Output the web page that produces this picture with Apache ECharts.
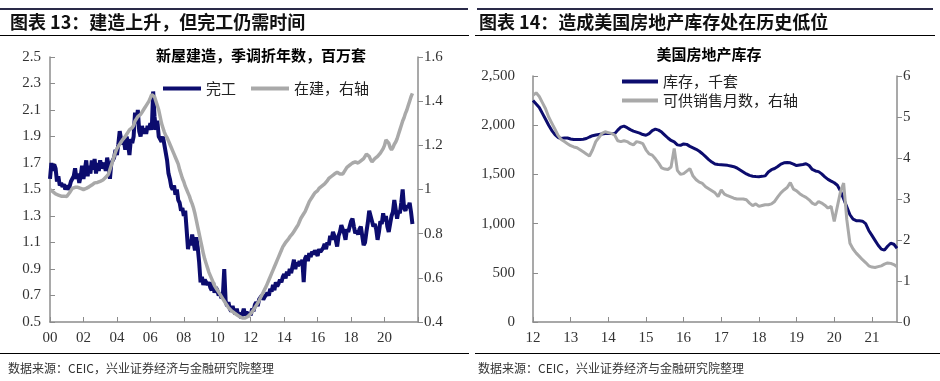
<!DOCTYPE html>
<html>
<head>
<meta charset="utf-8">
<script src="https://cdn.jsdelivr.net/npm/echarts@6/dist/echarts.min.js"></script>
<style>
  html, body { margin: 0; padding: 0; background: #fff; }
  #chart { width: 940px; height: 381px; }
</style>
</head>
<body>
<div id="chart"></div>
<script>
// ---------- Left chart: monthly from Jan 2000 ----------
const leftStartYear = 2000;
const leftAxisMinYear = 2000;
const leftAxisMaxYear = 2022;
const leftXTickStep = 2;
// 完工 (left axis, millions, SAAR)
const completions = [
  1.58, 1.70, 1.64, 1.69, 1.66, 1.56, 1.60, 1.53, 1.55, 1.52, 1.54, 1.50,
  1.53, 1.50, 1.52, 1.56, 1.55, 1.60, 1.66, 1.58, 1.62, 1.55, 1.60, 1.68,
  1.58, 1.65, 1.72, 1.60, 1.68, 1.62, 1.72, 1.65, 1.73, 1.62, 1.70, 1.64,
  1.72, 1.66, 1.65, 1.70, 1.64, 1.74, 1.68, 1.58, 1.70, 1.72, 1.74, 1.80,
  1.76, 1.84, 1.94, 1.88, 1.84, 1.87, 1.80, 1.90, 1.84, 1.76, 1.88, 1.85,
  1.90, 2.08, 2.00, 2.10, 1.94, 1.90, 1.98, 1.92, 1.96, 1.92, 1.98, 1.95,
  2.00, 1.95, 2.24, 2.05, 1.95, 2.02, 1.90, 1.88, 1.86, 1.90, 1.84, 1.78,
  1.72, 1.62, 1.58, 1.52, 1.50, 1.53, 1.46, 1.50, 1.42, 1.40, 1.34, 1.36,
  1.30, 1.34, 1.20, 1.05, 1.12, 1.08, 1.16, 1.10, 1.04, 1.14, 1.06, 0.95,
  0.80, 0.84, 0.78, 0.82, 0.80, 0.78, 0.80, 0.76, 0.74, 0.80, 0.72, 0.76,
  0.74, 0.70, 0.72, 0.68, 0.70, 0.90, 0.66, 0.62, 0.65, 0.60, 0.58, 0.62,
  0.58, 0.56, 0.60, 0.55, 0.57, 0.53, 0.56, 0.60, 0.55, 0.58, 0.54, 0.57,
  0.55, 0.60, 0.58, 0.63, 0.65, 0.62, 0.67, 0.66, 0.70, 0.67, 0.69, 0.68,
  0.72, 0.70, 0.75, 0.73, 0.78, 0.74, 0.80, 0.77, 0.79, 0.82, 0.80, 0.84,
  0.86, 0.83, 0.88, 0.85, 0.90, 0.87, 0.92, 0.97, 0.90, 0.95, 0.92, 0.96,
  0.93, 0.97, 0.80, 0.98, 1.00, 0.96, 1.02, 0.99, 1.03, 1.01, 1.04, 1.02,
  1.00, 1.05, 1.03, 1.02, 1.06, 1.09, 1.05, 1.10, 1.08, 1.15, 1.12, 1.18,
  1.17, 1.12, 1.07, 1.15, 1.18, 1.23, 1.20, 1.17, 1.12, 1.20, 1.18, 1.22,
  1.26, 1.28, 1.22, 1.17, 1.19, 1.16, 1.20, 1.22, 1.15, 1.08, 1.10, 1.18,
  1.25, 1.34, 1.30, 1.26, 1.22, 1.24, 1.20, 1.12, 1.18, 1.26, 1.24, 1.32,
  1.26, 1.30, 1.22, 1.18, 1.24, 1.30, 1.33, 1.42, 1.35, 1.28, 1.34, 1.32,
  1.40, 1.50, 1.36, 1.34, 1.38, 1.36, 1.40, 1.33, 1.24
];
// 在建 (right axis, millions)
const underConstruction = [
  1.000, 0.995, 0.990, 0.985, 0.980, 0.980, 0.975, 0.975, 0.970, 0.970, 0.970, 0.968,
  0.968, 0.975, 0.985, 0.995, 1.005, 1.010, 1.010, 1.010, 1.010, 1.005, 1.005, 1.000,
  1.000, 1.000, 1.005, 1.010, 1.012, 1.015, 1.020, 1.025, 1.030, 1.030, 1.032, 1.035,
  1.037, 1.040, 1.043, 1.048, 1.055, 1.060, 1.070, 1.090, 1.110, 1.130, 1.150, 1.170,
  1.185, 1.195, 1.205, 1.215, 1.225, 1.230, 1.240, 1.250, 1.260, 1.270, 1.275, 1.280,
  1.290, 1.310, 1.320, 1.330, 1.335, 1.340, 1.350, 1.360, 1.370, 1.380, 1.390, 1.400,
  1.415, 1.430, 1.430, 1.420, 1.400, 1.380, 1.360, 1.330, 1.300, 1.280, 1.260, 1.245,
  1.235, 1.220, 1.205, 1.190, 1.175, 1.160, 1.145, 1.130, 1.115, 1.090, 1.070, 1.050,
  1.035, 1.015, 1.000, 0.985, 0.970, 0.950, 0.935, 0.915, 0.890, 0.860, 0.830, 0.800,
  0.770, 0.740, 0.710, 0.685, 0.665, 0.645, 0.625, 0.610, 0.595, 0.580, 0.565, 0.555,
  0.545, 0.535, 0.525, 0.515, 0.505, 0.495, 0.485, 0.475, 0.465, 0.458, 0.452, 0.447,
  0.442, 0.438, 0.433, 0.428, 0.424, 0.420, 0.418, 0.417, 0.418, 0.420, 0.425, 0.430,
  0.438, 0.446, 0.455, 0.465, 0.475, 0.485, 0.497, 0.510, 0.522, 0.535, 0.548, 0.560,
  0.575, 0.590, 0.605, 0.620, 0.635, 0.650, 0.665, 0.680, 0.695, 0.710, 0.725, 0.740,
  0.750, 0.760, 0.765, 0.775, 0.785, 0.790, 0.800, 0.810, 0.820, 0.830, 0.840, 0.855,
  0.870, 0.880, 0.890, 0.900, 0.915, 0.930, 0.945, 0.955, 0.965, 0.975, 0.985, 0.990,
  0.995, 1.005, 1.010, 1.015, 1.020, 1.025, 1.032, 1.040, 1.050, 1.055, 1.060, 1.065,
  1.070, 1.075, 1.078, 1.075, 1.070, 1.068, 1.070, 1.080, 1.090, 1.100, 1.105, 1.110,
  1.115, 1.120, 1.125, 1.125, 1.120, 1.120, 1.125, 1.130, 1.135, 1.140, 1.150, 1.160,
  1.160, 1.150, 1.135, 1.125, 1.130, 1.140, 1.145, 1.150, 1.155, 1.165, 1.175, 1.185,
  1.200, 1.225, 1.230, 1.210, 1.190, 1.180, 1.190, 1.205, 1.215, 1.230, 1.250, 1.270,
  1.290, 1.310, 1.325, 1.345, 1.360, 1.380, 1.400, 1.420, 1.435
];
const leftYTicks = [0.5, 0.7, 0.9, 1.1, 1.3, 1.5, 1.7, 1.9, 2.1, 2.3, 2.5];
const leftY2Range = [0.4, 1.6, 0.2];

// ---------- Right chart: monthly from Jan 2012 ----------
const rightStartYear = 2012;
// 库存，千套 (left axis)
const inventory = [
  2250, 2215, 2180, 2120, 2060, 2000, 1945, 1905, 1875, 1865, 1870, 1870,
  1860, 1855, 1855, 1855, 1858, 1865, 1880, 1893, 1900, 1905, 1910, 1915,
  1915, 1915, 1912, 1950, 1980, 1990, 1975, 1955, 1940, 1930, 1920, 1905,
  1898, 1915, 1945, 1960, 1950, 1930, 1900, 1870, 1845, 1830, 1800, 1795,
  1810, 1805, 1785, 1770, 1755, 1735, 1710, 1680, 1650, 1625, 1605, 1600,
  1598, 1595, 1592, 1585, 1578, 1565, 1545, 1525, 1505, 1490, 1482, 1478,
  1477, 1480, 1485, 1525, 1548, 1560, 1580, 1605, 1618, 1620, 1618, 1605,
  1590, 1595, 1600, 1608, 1590, 1550, 1535, 1528, 1505, 1475, 1450, 1432,
  1415, 1390, 1330, 1250, 1170, 1090, 1045, 1030, 1028, 1025, 1000, 930,
  880, 830, 780, 740, 730, 770, 800, 790, 750
];
// 可供销售月数 (right axis)
const monthsSupply = [
  5.53, 5.59, 5.50, 5.35, 5.20, 5.00, 4.85, 4.70, 4.55, 4.45, 4.40, 4.35,
  4.30, 4.27, 4.25, 4.20, 4.15, 4.10, 4.05, 4.20, 4.40, 4.50, 4.60, 4.64,
  4.62, 4.60, 4.56, 4.42, 4.40, 4.42, 4.40, 4.35, 4.32, 4.40, 4.38, 4.35,
  4.20, 4.10, 4.07, 3.98, 3.88, 3.76, 3.73, 3.72, 3.78, 4.23, 3.70, 3.60,
  3.62, 3.68, 3.74, 3.56, 3.47, 3.41, 3.38, 3.30, 3.25, 3.20, 3.15, 3.06,
  3.22, 3.12, 3.08, 3.05, 3.02, 3.00, 3.00, 3.00, 2.98, 2.90, 2.84, 2.88,
  2.82, 2.84, 2.86, 2.86, 2.88, 2.94, 3.05, 3.15, 3.22, 3.28, 3.40, 3.24,
  3.20, 3.13, 3.08, 3.04, 2.98, 2.90, 2.86, 2.94, 2.90, 2.85, 2.78, 2.82,
  2.45, 2.82, 3.18, 3.39, 2.50, 1.92, 1.78, 1.68, 1.60, 1.52, 1.45, 1.37,
  1.34, 1.33, 1.35, 1.37, 1.41, 1.44, 1.43, 1.40, 1.35
];
const rightYRange = [0, 2500, 500];
const rightY2Range = [0, 6, 1];

// ---------- build ----------
const toPairs = (start, arr) => arr.map((v, i) => [start + i / 12, v]);
const rightAxisMaxYear = rightStartYear + (inventory.length - 1) / 12;

const NAVY = '#0c0c6e';
const GRAY = '#a9a9a9';
const AXIS = '#8c8c8c';
const serif = "'Liberation Serif', 'Times New Roman', serif";
const cjk = "'Noto Sans CJK SC', sans-serif";
const lblStyle = { color: '#333', fontFamily: serif, fontSize: 15 };

const chart = echarts.init(document.getElementById('chart'), null, { renderer: 'canvas' });
chart.setOption({
  backgroundColor: '#fff',
  animation: false,
  title: [
    { text: '图表 13：建造上升，但完工仍需时间', left: 10, top: 13, padding: 0,
      textStyle: { fontSize: 18, fontWeight: 'bold', color: '#111', fontFamily: cjk } },
    { text: '图表 14：造成美国房地产库存处在历史低位', left: 479, top: 13, padding: 0,
      textStyle: { fontSize: 18, fontWeight: 'bold', color: '#111', fontFamily: cjk } },
    { text: '新屋建造，季调折年数，百万套', left: 261, textAlign: 'center', top: 48, padding: 0,
      textStyle: { fontSize: 15, fontWeight: 'bold', color: '#000', fontFamily: cjk } },
    { text: '美国房地产库存', left: 709, textAlign: 'center', top: 47, padding: 0,
      textStyle: { fontSize: 15, fontWeight: 'bold', color: '#000', fontFamily: cjk } },
    { text: '数据来源：CEIC，兴业证券经济与金融研究院整理', left: 8, top: 362, padding: 0,
      textStyle: { fontSize: 12, fontWeight: 'normal', color: '#333', fontFamily: cjk } },
    { text: '数据来源：CEIC，兴业证券经济与金融研究院整理', left: 478, top: 362, padding: 0,
      textStyle: { fontSize: 12, fontWeight: 'normal', color: '#333', fontFamily: cjk } }
  ],
  graphic: [
    { type: 'line', shape: { x1: 0, y1: 9, x2: 468, y2: 9 }, style: { stroke: '#2a2a48', lineWidth: 2 } },
    { type: 'line', shape: { x1: 477, y1: 9, x2: 933, y2: 9 }, style: { stroke: '#2a2a48', lineWidth: 2 } },
    { type: 'line', shape: { x1: 0, y1: 35.5, x2: 469, y2: 35.5 }, style: { stroke: '#000', lineWidth: 1 } },
    { type: 'line', shape: { x1: 475, y1: 35.5, x2: 935, y2: 35.5 }, style: { stroke: '#000', lineWidth: 1 } },
    { type: 'line', shape: { x1: 0, y1: 353.5, x2: 469, y2: 353.5 }, style: { stroke: '#000', lineWidth: 1 } },
    { type: 'line', shape: { x1: 475, y1: 353.5, x2: 940, y2: 353.5 }, style: { stroke: '#000', lineWidth: 1 } }
  ],
  legend: [
    { data: ['完工', '在建，右轴'], left: 158, top: 74, orient: 'horizontal',
      icon: 'rect', itemWidth: 38, itemHeight: 4, itemGap: 15,
      textStyle: { fontSize: 15, color: '#222', fontFamily: cjk, lineHeight: 19 } },
    { data: ['库存，千套', '可供销售月数，右轴'], left: 617, top: 67, orient: 'vertical',
      icon: 'rect', itemWidth: 36, itemHeight: 4, itemGap: 0,
      textStyle: { fontSize: 15, color: '#222', fontFamily: cjk, lineHeight: 19 } }
  ],
  grid: [
    { left: 50, right: 522, top: 57, bottom: 59 },
    { left: 533, right: 43, top: 76, bottom: 59 }
  ],
  xAxis: [
    { type: 'value', gridIndex: 0, min: leftAxisMinYear, max: leftAxisMaxYear, interval: leftXTickStep,
      axisLine: { lineStyle: { color: AXIS, width: 1.5 } },
      axisTick: { inside: true, length: 5, lineStyle: { color: AXIS } },
      splitLine: { show: false },
      axisLabel: Object.assign({}, lblStyle, { margin: 9,
        formatter: v => (v >= leftAxisMaxYear ? '' : String(Math.round(v) % 100).padStart(2, '0')) }) },
    { type: 'value', gridIndex: 1, min: rightStartYear, max: rightAxisMaxYear, interval: 1,
      axisLine: { lineStyle: { color: AXIS, width: 1.5 } },
      axisTick: { inside: true, length: 5, lineStyle: { color: AXIS } },
      splitLine: { show: false },
      axisLabel: Object.assign({}, lblStyle, { margin: 9, showMaxLabel: false,
        formatter: v => (Math.abs(v - Math.round(v)) > 1e-6 ? '' : String(Math.round(v) % 100).padStart(2, '0')) }) }
  ],
  yAxis: [
    { type: 'value', gridIndex: 0, min: leftYTicks[0], max: leftYTicks[leftYTicks.length - 1],
      axisLine: { show: true, lineStyle: { color: AXIS, width: 1.5 } },
      axisTick: { show: true, inside: true, length: 5, customValues: leftYTicks, lineStyle: { color: AXIS } },
      splitLine: { show: false },
      axisLabel: Object.assign({}, lblStyle, { margin: 9, customValues: leftYTicks, formatter: v => v.toFixed(1) }) },
    { type: 'value', gridIndex: 0, position: 'right', min: leftY2Range[0], max: leftY2Range[1], interval: leftY2Range[2],
      axisLine: { show: true, lineStyle: { color: AXIS, width: 1.5 } },
      axisTick: { show: true, inside: false, length: 5, lineStyle: { color: AXIS } },
      splitLine: { show: false },
      axisLabel: Object.assign({}, lblStyle, { margin: 6, formatter: v => String(Math.round(v * 10) / 10) }) },
    { type: 'value', gridIndex: 1, min: rightYRange[0], max: rightYRange[1], interval: rightYRange[2],
      axisLine: { show: true, lineStyle: { color: AXIS, width: 1.5 } },
      axisTick: { show: true, inside: true, length: 5, lineStyle: { color: AXIS } },
      splitLine: { show: false },
      axisLabel: Object.assign({}, lblStyle, { margin: 18, formatter: v => v.toLocaleString('en-US') }) },
    { type: 'value', gridIndex: 1, position: 'right', min: rightY2Range[0], max: rightY2Range[1], interval: rightY2Range[2],
      axisLine: { show: true, lineStyle: { color: AXIS, width: 1.5 } },
      axisTick: { show: true, inside: false, length: 5, lineStyle: { color: AXIS } },
      splitLine: { show: false },
      axisLabel: Object.assign({}, lblStyle, { margin: 6 }) }
  ],
  series: [
    { name: '完工', type: 'line', xAxisIndex: 0, yAxisIndex: 0, data: toPairs(leftStartYear, completions),
      showSymbol: false, symbol: 'none', lineStyle: { color: NAVY, width: 4 }, itemStyle: { color: NAVY } },
    { name: '在建，右轴', type: 'line', xAxisIndex: 0, yAxisIndex: 1, data: toPairs(leftStartYear, underConstruction),
      showSymbol: false, symbol: 'none', lineStyle: { color: GRAY, width: 3.5 }, itemStyle: { color: GRAY } },
    { name: '库存，千套', type: 'line', xAxisIndex: 1, yAxisIndex: 2, data: toPairs(rightStartYear, inventory),
      showSymbol: false, symbol: 'none', lineStyle: { color: NAVY, width: 3 }, itemStyle: { color: NAVY } },
    { name: '可供销售月数，右轴', type: 'line', xAxisIndex: 1, yAxisIndex: 3, data: toPairs(rightStartYear, monthsSupply),
      showSymbol: false, symbol: 'none', lineStyle: { color: GRAY, width: 3 }, itemStyle: { color: GRAY } }
  ]
});
</script>
</body>
</html>
